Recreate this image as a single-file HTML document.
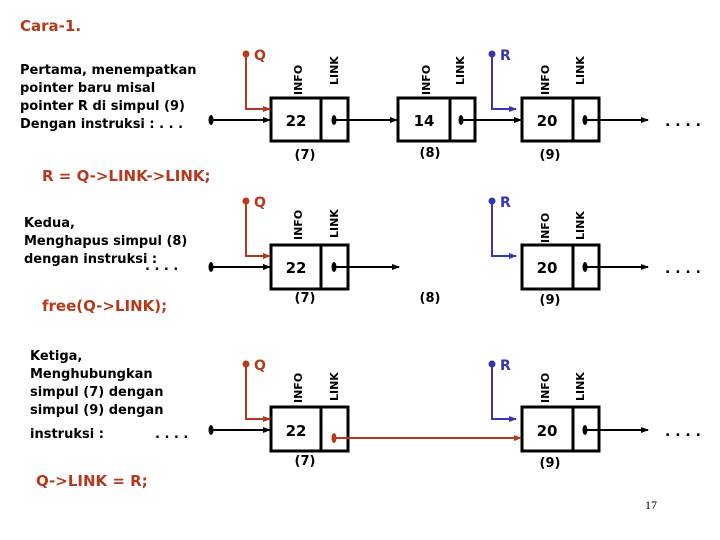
<!DOCTYPE html>
<html><head><meta charset="utf-8"><style>
html,body{margin:0;padding:0;background:#fff}
svg{display:block}
text{font-family:"DejaVu Sans","Liberation Sans",sans-serif;font-weight:bold}
</style></head><body>
<svg width="720" height="540" viewBox="0 0 720 540" xmlns="http://www.w3.org/2000/svg">
<defs>
<marker id="ab" markerWidth="8" markerHeight="8" refX="7" refY="4" orient="auto" markerUnits="userSpaceOnUse"><path d="M0,1 L8,4 L0,7z" fill="#000"/></marker>
<marker id="ao" markerWidth="8" markerHeight="8" refX="7" refY="4" orient="auto" markerUnits="userSpaceOnUse"><path d="M0,1 L8,4 L0,7z" fill="#b5391a"/></marker>
<marker id="au" markerWidth="8" markerHeight="8" refX="7" refY="4" orient="auto" markerUnits="userSpaceOnUse"><path d="M0,1 L8,4 L0,7z" fill="#3535b5"/></marker>
</defs>
<text x="20" y="31" font-size="15" fill="#b5391a">Cara-1.</text>
<g font-size="13" fill="#000">
<text x="20" y="74">Pertama, menempatkan</text>
<text x="20" y="92">pointer baru misal</text>
<text x="20" y="110">pointer R di simpul (9)</text>
<text x="20" y="128">Dengan instruksi : . . .</text>
<text x="24" y="227">Kedua,</text>
<text x="24" y="245">Menghapus simpul (8)</text>
<text x="24" y="263">dengan instruksi :</text>
<text x="145" y="270">. . . .</text>
<text x="30" y="360">Ketiga,</text>
<text x="30" y="378">Menghubungkan</text>
<text x="30" y="396">simpul (7) dengan</text>
<text x="30" y="414">simpul (9) dengan</text>
<text x="30" y="438">instruksi :</text>
<text x="155" y="438">. . . .</text>
</g>
<g font-size="15" fill="#b5391a">
<text x="42" y="181">R = Q-&gt;LINK-&gt;LINK;</text>
<text x="42" y="311">free(Q-&gt;LINK);</text>
<text x="36" y="486">Q-&gt;LINK = R;</text>
</g>
<text x="645" y="509" font-size="12" font-weight="normal" style="font-weight:normal;font-family:'Liberation Serif',serif">17</text>

<g stroke="#000" stroke-width="3" fill="#fff">
<rect x="271" y="98" width="77" height="43"/><line x1="321" y1="98" x2="321" y2="141"/>
<rect x="398" y="98" width="77" height="43"/><line x1="450" y1="98" x2="450" y2="141"/>
<rect x="522" y="98" width="77" height="43"/><line x1="573" y1="98" x2="573" y2="141"/>
<rect x="271" y="245" width="77" height="44"/><line x1="321" y1="245" x2="321" y2="289"/>
<rect x="522" y="245" width="77" height="44"/><line x1="573" y1="245" x2="573" y2="289"/>
<rect x="271" y="407" width="77" height="44"/><line x1="321" y1="407" x2="321" y2="451"/>
<rect x="522" y="407" width="77" height="44"/><line x1="573" y1="407" x2="573" y2="451"/>
</g>
<g stroke="#000" stroke-width="2" fill="none">
<line x1="211" y1="120" x2="270" y2="120" marker-end="url(#ab)"/>
<line x1="334" y1="120" x2="397" y2="120" marker-end="url(#ab)"/>
<line x1="461" y1="120" x2="521" y2="120" marker-end="url(#ab)"/>
<line x1="585" y1="120" x2="648" y2="120" marker-end="url(#ab)"/>
<line x1="211" y1="267" x2="270" y2="267" marker-end="url(#ab)"/>
<line x1="334" y1="267" x2="399" y2="267" marker-end="url(#ab)"/>
<line x1="585" y1="267" x2="648" y2="267" marker-end="url(#ab)"/>
<line x1="211" y1="430" x2="270" y2="430" marker-end="url(#ab)"/>
<line x1="585" y1="430" x2="648" y2="430" marker-end="url(#ab)"/>
</g>
<g fill="#000">
<ellipse cx="211" cy="120" rx="2.5" ry="5"/><ellipse cx="334" cy="120" rx="2.5" ry="5"/>
<ellipse cx="461" cy="120" rx="2.5" ry="5"/><ellipse cx="585" cy="120" rx="2.5" ry="5"/>
<ellipse cx="211" cy="267" rx="2.5" ry="5"/><ellipse cx="334" cy="267" rx="2.5" ry="5"/>
<ellipse cx="585" cy="267" rx="2.5" ry="5"/>
<ellipse cx="211" cy="430" rx="2.5" ry="5"/><ellipse cx="585" cy="430" rx="2.5" ry="5"/>
</g>
<ellipse cx="334" cy="438" rx="2.5" ry="5" fill="#b5391a"/>
<line x1="334" y1="438" x2="521" y2="438" stroke="#b5391a" stroke-width="2" marker-end="url(#ao)"/>
<g fill="#000" font-size="15" text-anchor="middle">
<text x="296" y="126">22</text><text x="424" y="126">14</text><text x="547" y="126">20</text>
<text x="296" y="273">22</text><text x="547" y="273">20</text>
<text x="296" y="436">22</text><text x="547" y="436">20</text>
</g>
<g fill="#000" font-size="13" font-weight="normal" style="font-weight:normal" text-anchor="middle">
<text x="305" y="159">(7)</text><text x="430" y="157">(8)</text><text x="550" y="159">(9)</text>
<text x="305" y="302">(7)</text><text x="430" y="302">(8)</text><text x="550" y="304">(9)</text>
<text x="305" y="465">(7)</text><text x="550" y="467">(9)</text>
</g>
<g fill="#000" font-size="14">
<text x="665" y="126">. . . .</text><text x="665" y="273">. . . .</text><text x="665" y="436">. . . .</text>
</g>
<g fill="#000" font-size="11">
<text transform="translate(302,95) rotate(-90)">INFO</text><text transform="translate(338,85) rotate(-90)">LINK</text>
<text transform="translate(430,95) rotate(-90)">INFO</text><text transform="translate(464,85) rotate(-90)">LINK</text>
<text transform="translate(549,95) rotate(-90)">INFO</text><text transform="translate(584,85) rotate(-90)">LINK</text>
<text transform="translate(302,240) rotate(-90)">INFO</text><text transform="translate(338,238) rotate(-90)">LINK</text>
<text transform="translate(549,243) rotate(-90)">INFO</text><text transform="translate(584,240) rotate(-90)">LINK</text>
<text transform="translate(302,403) rotate(-90)">INFO</text><text transform="translate(338,401) rotate(-90)">LINK</text>
<text transform="translate(549,403) rotate(-90)">INFO</text><text transform="translate(584,401) rotate(-90)">LINK</text>
</g>
<g stroke="#b5391a" stroke-width="2" fill="none">
<polyline points="246,54 246,109 270,109" marker-end="url(#ao)"/>
<polyline points="246,201 246,256 270,256" marker-end="url(#ao)"/>
<polyline points="246,364 246,419 270,419" marker-end="url(#ao)"/>
</g>
<g fill="#b5391a"><circle cx="246" cy="54" r="3.5"/><circle cx="246" cy="201" r="3.5"/><circle cx="246" cy="364" r="3.5"/>
<text x="254" y="60" font-size="14">Q</text><text x="254" y="207" font-size="14">Q</text><text x="254" y="370" font-size="14">Q</text></g>
<g stroke="#3535b5" stroke-width="2" fill="none">
<polyline points="492,54 492,109 516,109" marker-end="url(#au)"/>
<polyline points="492,201 492,256 516,256" marker-end="url(#au)"/>
<polyline points="492,364 492,419 516,419" marker-end="url(#au)"/>
</g>
<g fill="#3535b5"><circle cx="492" cy="54" r="3.5"/><circle cx="492" cy="201" r="3.5"/><circle cx="492" cy="364" r="3.5"/>
<text x="500" y="60" font-size="14">R</text><text x="500" y="207" font-size="14">R</text><text x="500" y="370" font-size="14">R</text></g>
</svg>
</body></html>
